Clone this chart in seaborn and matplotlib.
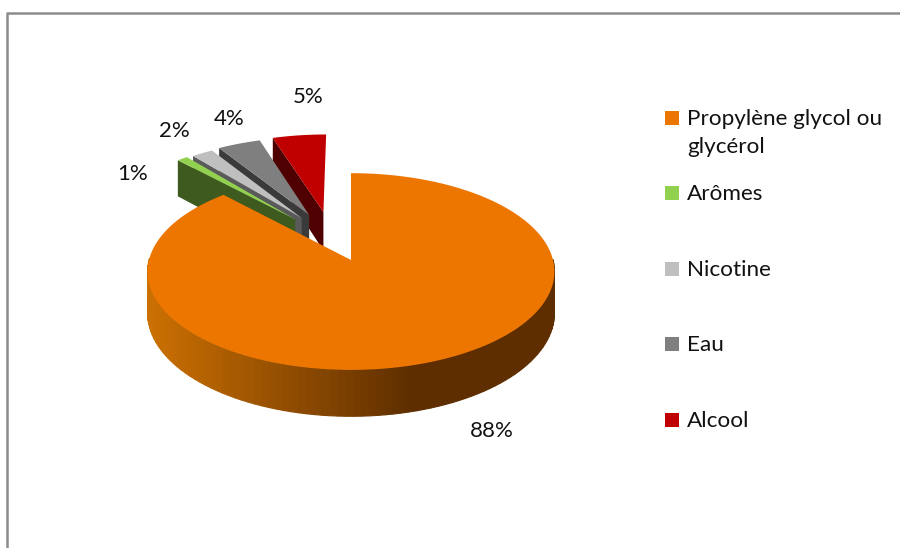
import numpy as np
import seaborn as sns
from matplotlib import pyplot as plt
from matplotlib.path import Path
from matplotlib.patches import Rectangle
from matplotlib.transforms import Affine2D, Transform

categories = ["Propylène glycol ou\nglycérol", "Arômes", "Nicotine", "Eau", "Alcool"]
shares = [88, 1, 2, 4, 5]
pct_labels = ["88%", "1%", "2%", "4%", "5%"]

top_colors = ["#ED7600", "#92D050", "#BFBFBF", "#7F7F7F", "#C00000"]
wall_colors = [None, "#3E5A1F", "#5A5A5A", "#3A3A3A", "#4F0000"]

# how far each small slice is pulled out of the pie, in pie units
offsets = [(0, 0), (-0.29, 0.44), (-0.257, 0.456), (-0.219, 0.49), (-0.145, 0.525)]

# fake 3d: pie plane seen in perspective, everything in picture pixels
APEX_X, APEX_Y = 351, 260
RX, RY, K = 202, 97, 0.117
DEPTH = 41


class TiltedPie(Transform):
    input_dims = 2
    output_dims = 2

    def transform_non_affine(self, values):
        values = np.asarray(values, dtype=float)
        w = 1 + K * values[:, 1]
        return np.column_stack([APEX_X + RX * values[:, 0] / w,
                                APEX_Y - RY * values[:, 1] / w])

    def transform_path_non_affine(self, path):
        # wedges are beziers, flatten them before warping (scaled up or the flattening is too coarse)
        flat = path.transformed(Affine2D().scale(1000)).to_polygons(closed_only=False)[0] / 1000
        return Path(self.transform_non_affine(flat))


tilt = TiltedPie()


def below(pts):
    # same pie points, pushed down to the bottom face
    out = tilt.transform_non_affine(pts)
    out[:, 1] += DEPTH / (1 + K * pts[:, 1])
    return out


def arc_point(center, theta):
    return np.array([center[0] + np.cos(np.radians(theta)), center[1] + np.sin(np.radians(theta))])


sns.set_theme(style="white", rc={"axes.linewidth": 0})
plt.rcParams["font.family"] = ["Lato", "DejaVu Sans"]

fig, ax = plt.subplots(figsize=(9, 5.48), dpi=100)
fig.subplots_adjust(0, 0, 1, 1)

wedges, _ = ax.pie(shares, colors=top_colors, startangle=90, counterclock=False, radius=1)
ax.set_aspect("auto")
ax.set_xlim(0, 900)
ax.set_ylim(548, 0)

side_cmap = sns.blend_palette(["#CC7002", "#5E2E00"], n_colors=64, as_cmap=True)

for i in [4, 3, 2, 1, 0]:
    wedge = wedges[i]
    wedge.set_center(offsets[i])
    wedge.set_linewidth(0)
    wedge.set_transform(tilt + ax.transData)
    wedge.set_zorder(3)

    if i == 0:
        # rim of the big slice, shaded from left to right
        angles = np.linspace(wedge.theta1, wedge.theta2, 160)
        pts = np.array([arc_point(wedge.center, t) for t in angles])
        top = tilt.transform_non_affine(pts)
        bot = below(pts)
        for j in range(len(angles) - 1):
            if pts[j, 1] > 0 and pts[j + 1, 1] > 0:
                continue
            quad = np.vstack([top[j:j + 2], bot[j:j + 2][::-1]])
            frac = np.clip((quad[:, 0].mean() - 148) / 265, 0, 1)
            ax.fill(quad[:, 0], quad[:, 1], color=side_cmap(frac), lw=0.8, zorder=2.5)
    else:
        # cut face on the left of the pulled slice
        corner = arc_point(wedge.center, wedge.theta1 if wedge.theta1 > 180 else wedge.theta2)
        ends = np.array([corner, wedge.center])
        quad = np.vstack([tilt.transform_non_affine(ends), below(ends)[::-1]])
        ax.fill(quad[:, 0], quad[:, 1], color=wall_colors[i], lw=0, zorder=1 + (5 - i) * 0.1)
        wedge.set_zorder(1.05 + (5 - i) * 0.1)

# percent labels
label_x = [492, 133, 174, 229, 308]
label_y = [431, 174, 131, 119, 97]
for x, y, text in zip(label_x, label_y, pct_labels):
    ax.text(x, y, text, fontsize=16, color="#111111", ha="center", va="center")

# legend
legend_y = [118, 193, 269, 344, 420]
for y, name, color in zip(legend_y, categories, top_colors):
    ax.add_patch(Rectangle((665, y - 7), 14, 14, color=color, lw=0, zorder=3))
    ax.text(687, y - 9, name, fontsize=16.2, color="#111111", ha="left", va="top", linespacing=1.5)

# chart frame, runs off the picture on the right and at the bottom
ax.plot([7, 7, 900], [548, 13, 13], color="#8C8C8C", lw=1.8, zorder=5)

fig.savefig("out.png", dpi=100)
